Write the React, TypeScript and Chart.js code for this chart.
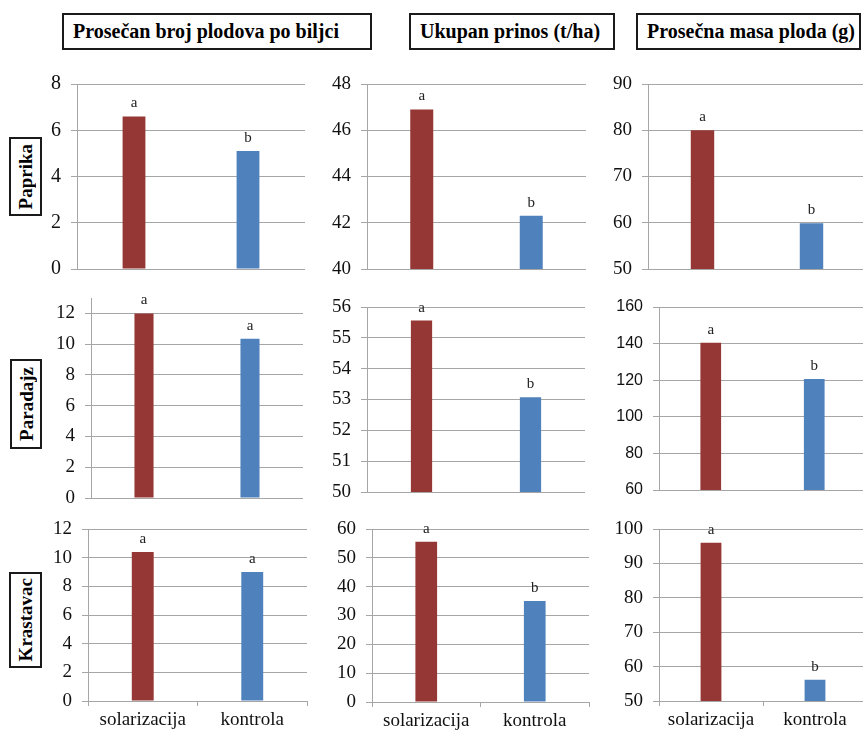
import React, { useEffect, useRef } from 'react';
import { Chart, registerables } from 'chart.js';

Chart.register(...registerables);

// ---------- data ----------
const categories = ['solarizacija', 'kontrola'];
const columnTitles = ['Prosečan broj plodova po biljci', 'Ukupan prinos (t/ha)', 'Prosečna masa ploda (g)'];
const rowTitles = ['Paprika', 'Paradajz', 'Krastavac'];

const paprikaBroj = [6.6, 5.1];
const paprikaPrinos = [46.9, 42.3];
const paprikaMasa = [80, 59.9];
const paradajzBroj = [12.0, 10.35];
const paradajzPrinos = [55.56, 53.07];
const paradajzMasa = [140.5, 120.7];
const krastavacBroj = [10.4, 9.0];
const krastavacPrinos = [55.6, 35.0];
const krastavacMasa = [96.0, 56.2];

const paprikaLetters = [['a', 'b'], ['a', 'b'], ['a', 'b']];
const paradajzLetters = [['a', 'a'], ['a', 'b'], ['a', 'b']];
const krastavacLetters = [['a', 'a'], ['a', 'b'], ['a', 'b']];

// axis [min, max, step]
const paprikaAxes = [[0, 8, 2], [40, 48, 2], [50, 90, 10]];
const paradajzAxes = [[0, 13, 2], [50, 56, 1], [60, 160, 20]];
const krastavacAxes = [[0, 12, 2], [0, 60, 10], [50, 100, 10]];

// ---------- style ----------
const RED = '#953735';
const BLUE = '#4f81bd';
const GRID = '#a6a6a6';
const SERIF = "'Liberation Serif', serif";
const SANS = "'Liberation Sans', sans-serif";

Chart.defaults.font.family = SERIF;

type PanelCfg = {
  values: number[];
  letters: string[];
  axis: number[];
  rect: number[]; // plot area left, top, right, bottom
  barPct: number;
  showX: boolean;
  tickFamily: string;
  tickSize: number;
};

const panels: PanelCfg[] = [
  { values: paprikaBroj, letters: paprikaLetters[0], axis: paprikaAxes[0], rect: [77, 84, 305, 269], barPct: 0.2, showX: false, tickFamily: SERIF, tickSize: 20 },
  { values: paprikaPrinos, letters: paprikaLetters[1], axis: paprikaAxes[1], rect: [367, 84, 586, 269], barPct: 0.21, showX: false, tickFamily: SERIF, tickSize: 19 },
  { values: paprikaMasa, letters: paprikaLetters[2], axis: paprikaAxes[2], rect: [648, 84, 866, 269], barPct: 0.215, showX: false, tickFamily: SERIF, tickSize: 19 },
  { values: paradajzBroj, letters: paradajzLetters[0], axis: paradajzAxes[0], rect: [91, 298, 303, 498], barPct: 0.18, showX: false, tickFamily: SERIF, tickSize: 19 },
  { values: paradajzPrinos, letters: paradajzLetters[1], axis: paradajzAxes[1], rect: [367, 307, 585, 492], barPct: 0.195, showX: false, tickFamily: SERIF, tickSize: 19 },
  { values: paradajzMasa, letters: paradajzLetters[2], axis: paradajzAxes[2], rect: [659, 307, 866, 490], barPct: 0.2, showX: false, tickFamily: SANS, tickSize: 16 },
  { values: krastavacBroj, letters: krastavacLetters[0], axis: krastavacAxes[0], rect: [88, 529, 307, 701], barPct: 0.2, showX: true, tickFamily: SERIF, tickSize: 19 },
  { values: krastavacPrinos, letters: krastavacLetters[1], axis: krastavacAxes[1], rect: [372, 529, 589, 702], barPct: 0.2, showX: true, tickFamily: SERIF, tickSize: 19 },
  { values: krastavacMasa, letters: krastavacLetters[2], axis: krastavacAxes[2], rect: [659, 529, 867, 701], barPct: 0.2, showX: true, tickFamily: SERIF, tickSize: 19 },
];

const YW = 60;
const PT = 22;
const PR = 2;

function Panel({ cfg }: { cfg: PanelCfg }) {
  const ref = useRef<HTMLCanvasElement | null>(null);
  const [l, t, r, b] = cfg.rect;
  const XH = cfg.showX ? 732 - b : 14;
  const w = YW + (r - l) + PR;
  const h = PT + (b - t) + XH;

  useEffect(() => {
    if (!ref.current) return;
    const letters = cfg.letters;
    const letterPlugin = {
      id: 'letters',
      afterDatasetsDraw(chart: any) {
        const ctx = chart.ctx;
        const meta = chart.getDatasetMeta(0);
        ctx.save();
        ctx.font = `15px ${SERIF}`;
        ctx.textAlign = 'center';
        ctx.textBaseline = 'alphabetic';
        ctx.fillStyle = '#222';
        meta.data.forEach((el: any, i: number) => {
          ctx.fillText(letters[i], el.x, el.y - 9);
        });
        ctx.restore();
      },
    };
    const [min, max, step] = cfg.axis;
    const chart = new Chart(ref.current, {
      type: 'bar',
      data: {
        labels: categories,
        datasets: [
          {
            data: cfg.values,
            backgroundColor: [RED, BLUE],
            borderWidth: 0,
            barPercentage: cfg.barPct,
            categoryPercentage: 1,
          },
        ],
      },
      options: {
        responsive: false,
        animation: false,
        devicePixelRatio: 1,
        font: { family: SERIF },
        layout: { padding: { top: PT, right: PR, left: 0, bottom: 0 } },
        plugins: { legend: { display: false }, tooltip: { enabled: false } },
        scales: {
          x: {
            display: true,
            afterFit: (s: any) => {
              s.height = XH;
              s.paddingLeft = 0;
              s.paddingRight = 0;
            },
            ticks: {
              display: cfg.showX,
              font: { family: SERIF, size: 19, style: 'normal', weight: 'normal' },
              color: '#111',
              padding: 3,
              maxRotation: 0,
            },
            grid: {
              display: cfg.showX,
              drawOnChartArea: false,
              drawTicks: true,
              tickLength: 5,
              offset: true,
              color: GRID,
            },
            border: { display: cfg.showX, color: GRID },
          },
          y: {
            min,
            max,
            bounds: 'data',
            afterFit: (s: any) => {
              s.width = YW;
              s.paddingTop = 0;
              s.paddingBottom = 0;
            },
            afterBuildTicks: (s: any) => {
              s.ticks = s.ticks.filter((tk: any) => {
                const k = (tk.value - min) / step;
                return Math.abs(k - Math.round(k)) < 1e-6;
              });
            },
            ticks: {
              stepSize: step,
              includeBounds: false,
              font: { family: cfg.tickFamily, size: cfg.tickSize, style: 'normal', weight: 'normal' },
              color: '#111',
              padding: 10,
            },
            grid: { color: GRID, tickLength: 6, lineWidth: 1 },
            border: { color: GRID },
          },
        },
      } as any,
      plugins: [letterPlugin],
    });
    return () => chart.destroy();
  }, []);

  return (
    <canvas
      ref={ref}
      width={w}
      height={h}
      style={{ position: 'absolute', left: l - YW, top: t - PT, width: w, height: h }}
    />
  );
}

const headerBoxes = [
  { left: 62, width: 310 },
  { left: 409, width: 206 },
  { left: 636, width: 225 },
];
const rowBoxes = [
  { left: 9, top: 137, width: 33, height: 79 },
  { left: 10, top: 359, width: 32, height: 90 },
  { left: 9, top: 572, width: 33, height: 96 },
];

export default function App() {
  return (
    <div
      style={{
        position: 'absolute',
        left: 0,
        top: 0,
        width: 863,
        height: 732,
        overflow: 'hidden',
        background: '#fff',
      }}
    >
      {panels.map((p, i) => (
        <Panel key={i} cfg={p} />
      ))}
      {columnTitles.map((title, i) => (
        <div
          key={title}
          style={{
            position: 'absolute',
            left: headerBoxes[i].left,
            top: 13,
            width: headerBoxes[i].width,
            height: 37,
            boxSizing: 'border-box',
            border: '2px solid #1a1a1a',
            display: 'flex',
            alignItems: 'center',
            paddingLeft: 9,
            fontFamily: SERIF,
            fontWeight: 'bold',
            fontSize: 20,
            color: '#000',
            whiteSpace: 'nowrap',
          }}
        >
          {title}
        </div>
      ))}
      {rowTitles.map((title, i) => (
        <div
          key={title}
          style={{
            position: 'absolute',
            left: rowBoxes[i].left,
            top: rowBoxes[i].top,
            width: rowBoxes[i].width,
            height: rowBoxes[i].height,
            boxSizing: 'border-box',
            border: '2px solid #1a1a1a',
            display: 'flex',
            alignItems: 'center',
            justifyContent: 'center',
            background: '#fff',
          }}
        >
          <span
            style={{
              writingMode: 'vertical-rl',
              transform: 'rotate(180deg)',
              fontFamily: SERIF,
              fontWeight: 'bold',
              fontSize: 19,
              color: '#000',
              whiteSpace: 'nowrap',
              lineHeight: 1,
            }}
          >
            {title}
          </span>
        </div>
      ))}
    </div>
  );
}
